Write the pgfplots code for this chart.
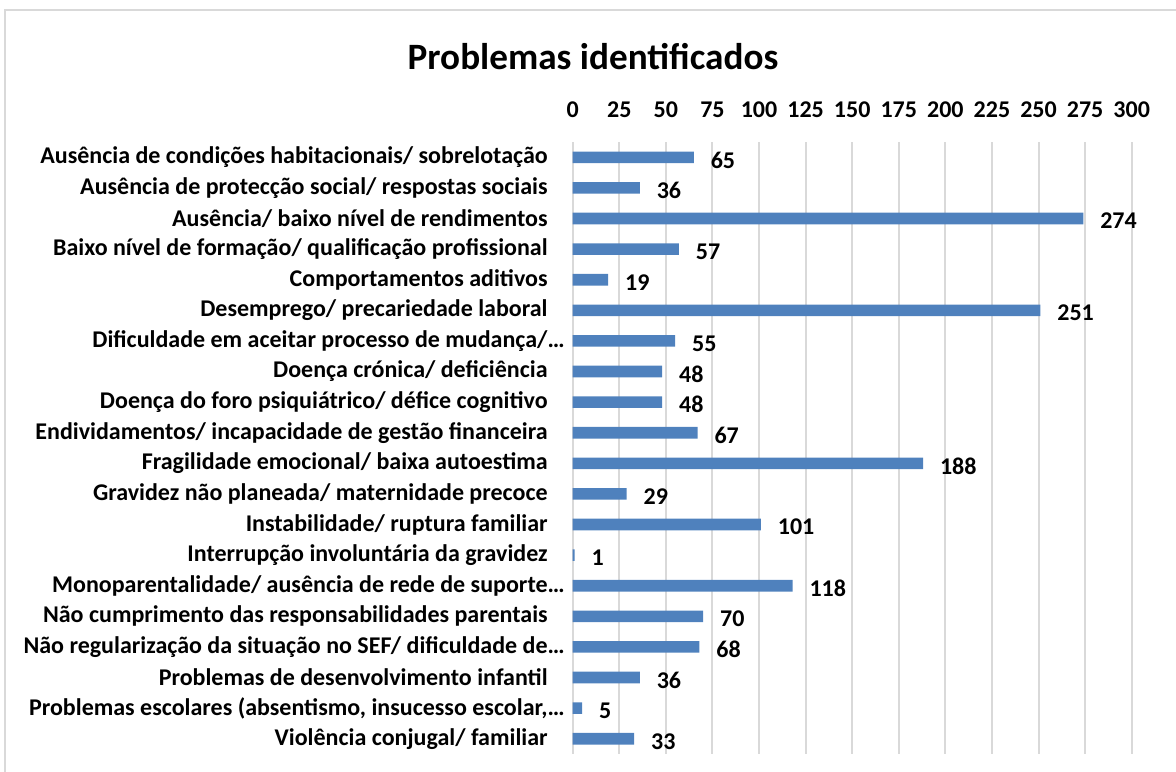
\documentclass[border=0pt]{standalone}
\usepackage{pgfplots}
\pgfplotsset{compat=1.18}
\usepackage{fontspec}
\setmainfont{Carlito}
\definecolor{barblue}{HTML}{4F81BD}
\definecolor{gridgray}{HTML}{D9D9D9}
\newcommand{\tl}{\kern8.5pt}
\begin{document}
\begin{tikzpicture}[x=1pt,y=1pt]
\useasboundingbox (0,0) rectangle (588,385.5);
\draw[gridgray, line width=1pt] (2.5,-10) rectangle (600,380.25);
\node[font=\bfseries\fontsize{18.6}{22}\selectfont] at (296.5,357) {Problemas identificados};
\begin{axis}[at={(286.35pt,8.5pt)}, anchor=south west, scale only axis,
  width=279.5pt, height=306pt,
  xbar, bar width=5.8pt, xmin=0, xmax=300, ymin=-0.5, ymax=19.5, y dir=reverse,
  xtick={0,25,...,300}, ytick={0,...,19},
  yticklabels={
    {Ausência de condições habitacionais/ sobrelotação\tl},
    {Ausência de protecção social/ respostas sociais\tl},
    {Ausência/ baixo nível de rendimentos\tl},
    {Baixo nível de formação/ qualificação profissional\tl},
    {Comportamentos aditivos\tl},
    {Desemprego/ precariedade laboral\tl},
    {Dificuldade em aceitar processo de mudança/…},
    {Doença crónica/ deficiência\tl},
    {Doença do foro psiquiátrico/ défice cognitivo\tl},
    {Endividamentos/ incapacidade de gestão financeira\tl},
    {Fragilidade emocional/ baixa autoestima\tl},
    {Gravidez não planeada/ maternidade precoce\tl},
    {Instabilidade/ ruptura familiar\tl},
    {Interrupção involuntária da gravidez\tl},
    {Monoparentalidade/ ausência de rede de suporte…},
    {Não cumprimento das responsabilidades parentais\tl},
    {Não regularização da situação no SEF/ dificuldade de…},
    {Problemas de desenvolvimento infantil\tl},
    {Problemas escolares (absentismo, insucesso escolar,…},
    {Violência conjugal/ familiar\tl}},
  xticklabel pos=upper,
  axis line style={draw=none}, major tick length=0pt,
  xmajorgrids, ymajorgrids=false, grid style={gridgray, line width=1pt},
  tick label style={font=\bfseries\fontsize{12}{14}\selectfont},
  /pgf/number format/assume math mode=true,
  yticklabel style={anchor=east, inner sep=0pt, xshift=-3.85pt},
  xticklabel style={anchor=base, inner sep=0pt, yshift=12.2pt},
  nodes near coords,
  nodes near coords style={anchor=west, inner sep=0pt, xshift=8.3pt, yshift=-1.3pt,
    font=\bfseries\fontsize{12}{14}\selectfont, text=black},
]
\addplot[fill=barblue, draw=none] coordinates {
(65,0) (36,1) (274,2) (57,3) (19,4) (251,5) (55,6) (48,7) (48,8) (67,9)
(188,10) (29,11) (101,12) (1,13) (118,14) (70,15) (68,16) (36,17) (5,18) (33,19)};
\end{axis}
\end{tikzpicture}
\end{document}
